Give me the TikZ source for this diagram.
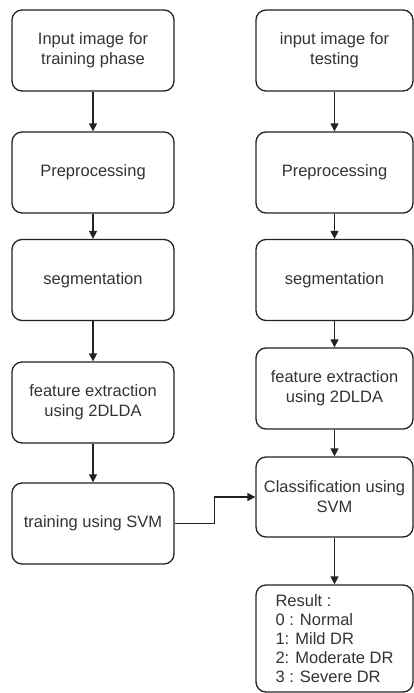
\documentclass[tikz,border=0pt]{standalone}
\usepackage{fontspec}
\setmainfont{Liberation Sans}
\usetikzlibrary{arrows.meta}
\definecolor{txt}{HTML}{333333}
\definecolor{ln}{HTML}{222222}
\begin{document}
\begin{tikzpicture}[x=1pt,y=-1pt,
  box/.style={draw=ln, line width=1.3pt, rounded corners=10pt, inner sep=0pt,
    align=center, text=txt, font=\fontsize{16.5}{20}\selectfont},
  lbox/.style={box, minimum width=162pt, minimum height=81pt},
  rbox/.style={box, minimum width=157pt, minimum height=81pt},
  arr/.style={draw=ln, line width=1.3pt, -{Triangle[length=8pt,width=8pt]}}]
\useasboundingbox (0,0) rectangle (414,693);
\node[lbox] (l1) at (93,50.5) {Input image for\\training phase};
\node[lbox] (l2) at (93,172.5) {Preprocessing};
\node[lbox] (l3) at (93,280) {segmentation};
\node[lbox] (l4) at (93,402.5) {feature extraction\\using 2DLDA};
\node[lbox] (l5) at (93,523.5) {training using SVM};
\node[rbox] (r1) at (334.5,50.5) {input image for\\testing};
\node[rbox] (r2) at (334.5,172.5) {Preprocessing};
\node[rbox] (r3) at (334.5,280) {segmentation};
\node[rbox] (r4) at (334.5,388.5) {feature extraction\\using 2DLDA};
\node[rbox, minimum height=80pt] (r5) at (334.5,497) {Classification using\\SVM};
\node[rbox, minimum height=107pt, align=left, font=\fontsize{16.5}{19}\selectfont] (r6) at (334.5,638.5) {Result :\\0 : Normal\\1: Mild DR\\2: Moderate DR\\3 : Severe DR};
\draw[arr] (l1) -- (l2);
\draw[arr] (l2) -- (l3);
\draw[arr] (l3) -- (l4);
\draw[arr] (l4) -- (l5);
\draw[arr] (r1) -- (r2);
\draw[arr] (r2) -- (r3);
\draw[arr] (r3) -- (r4);
\draw[arr] (r4) -- (r5);
\draw[arr] (r5) -- (r6);
\draw[arr] (l5.east) -- ++(40,0) |- (r5.west);
\end{tikzpicture}
\end{document}
